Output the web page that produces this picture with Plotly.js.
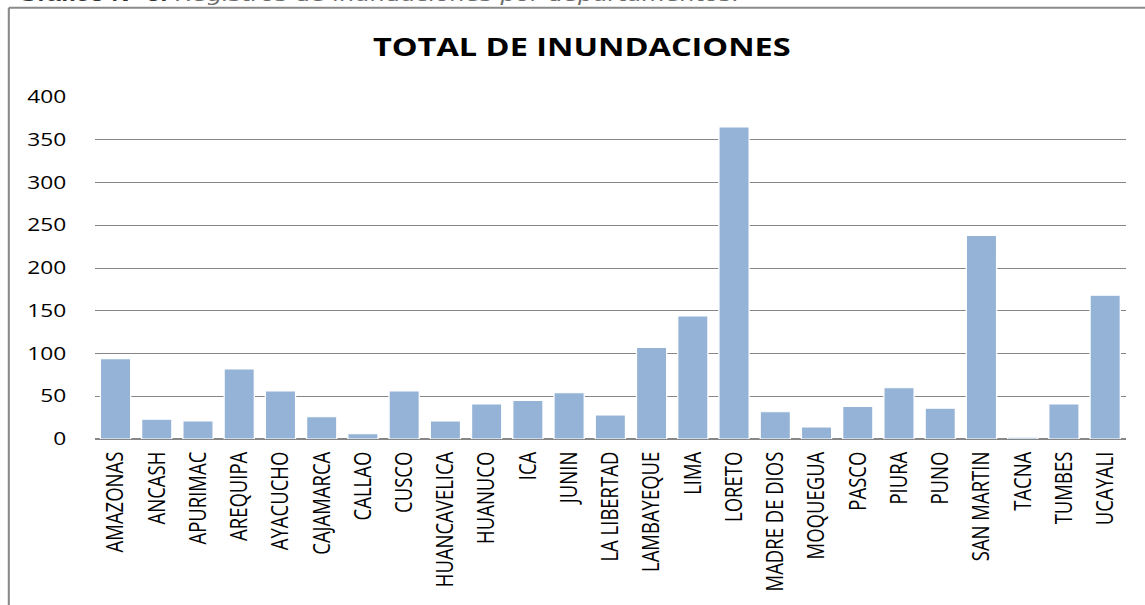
<!DOCTYPE html>
<html>
<head>
<meta charset="utf-8">
<script src="https://cdn.plot.ly/plotly-3.0.1.min.js"></script>
<style>
  html, body { margin: 0; padding: 0; background: #ffffff; overflow: hidden; }
  #wrap { width: 1145px; height: 605px; overflow: hidden; position: relative; }
  #chart { width: 881px; height: 605px; transform: scaleX(1.3); transform-origin: 0 0; }
</style>
</head>
<body>
<div id="wrap"><div id="chart"></div></div>
<script>
// ---- data ----
const departamentos = [
  "AMAZONAS", "ANCASH", "APURIMAC", "AREQUIPA", "AYACUCHO", "CAJAMARCA",
  "CALLAO", "CUSCO", "HUANCAVELICA", "HUANUCO", "ICA", "JUNIN",
  "LA LIBERTAD", "LAMBAYEQUE", "LIMA", "LORETO", "MADRE DE DIOS", "MOQUEGUA",
  "PASCO", "PIURA", "PUNO", "SAN MARTIN", "TACNA", "TUMBES", "UCAYALI"
];
const inundaciones = [
  94, 23, 21, 82, 56, 26,
  6, 56, 21, 41, 45, 54,
  28, 107, 144, 365, 32, 14,
  38, 60, 36, 238, 2, 41, 168
];
const yTicks = [0, 50, 100, 150, 200, 250, 300, 350, 400];
const chartTitle = "TOTAL DE INUNDACIONES";
const captionBold = "Gráfico N° 6:";
const captionText = "Registros de inundaciones por departamentos.";

const trace = {
  type: "bar",
  x: departamentos,
  y: inundaciones,
  marker: { color: "#95B3D7", line: { color: "#ffffff", width: 1 } },
  hoverinfo: "skip"
};

const layout = {
  width: 881,
  height: 605,
  margin: { l: 73, r: 15, t: 97, b: 166, pad: 0 },
  paper_bgcolor: "#ffffff",
  plot_bgcolor: "#ffffff",
  showlegend: false,
  bargap: 0.267,
  title: {
    text: "<b>" + chartTitle + "</b>",
    font: { family: "Open Sans", size: 25, color: "#000000" },
    x: 0.508, xref: "container", xanchor: "center",
    y: 1 - 47.5 / 605, yref: "container", yanchor: "middle"
  },
  xaxis: {
    type: "category",
    tickangle: -90,
    tickfont: { family: "Open Sans", size: 18.5, color: "#000000" },
    showgrid: false,
    showline: false,
    ticks: "",
    ticklabelstandoff: 8,
    fixedrange: true
  },
  yaxis: {
    range: [0, 400],
    tickvals: yTicks,
    ticktext: yTicks.map(String),
    tickfont: { family: "Open Sans", size: 17.5, color: "#000000" },
    showgrid: true,
    gridcolor: "#868686",
    gridwidth: 1,
    zeroline: true,
    zerolinecolor: "#868686",
    zerolinewidth: 1.5,
    showline: false,
    ticks: "",
    ticklabelstandoff: 21,
    fixedrange: true
  },
  shapes: [
    { type: "line", xref: "paper", yref: "paper", x0: -0.0835, x1: -0.0835, y0: -0.6, y1: 1.2613,
      line: { color: "#8a8a8a", width: 1.6 } },
    { type: "line", xref: "paper", yref: "paper", x0: -0.0835, x1: 1.3, y0: 1.2613, y1: 1.2613,
      line: { color: "#8a8a8a", width: 2 } }
  ],
  annotations: [
    {
      xref: "paper", yref: "paper",
      x: -0.077, xanchor: "left",
      y: 1.262, yanchor: "bottom",
      showarrow: false,
      align: "left",
      text: '<span style="font-family:Liberation Sans;font-size:19px;color:#333333"><b>' + captionBold +
            '</b></span> <i>' + captionText + '</i>',
      font: { family: "DejaVu Sans", size: 18.5, color: "#6a6a6a" }
    }
  ]
};

Plotly.newPlot("chart", [trace], layout, { staticPlot: true, displayModeBar: false });
</script>
</body>
</html>
